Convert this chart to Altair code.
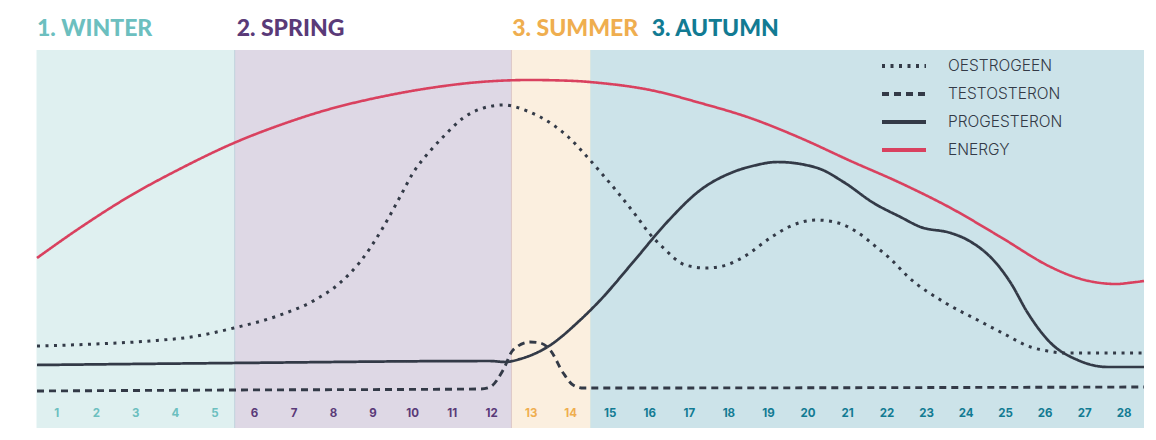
import altair as alt
import pandas as pd

# Cycle days shown along the bottom
DAYS = list(range(1, 29))

# Seasons of the cycle: band extent (in days), label anchor and colours
SEASONS = ["1. WINTER", "2. SPRING", "3. SUMMER", "3. AUTUMN"]
SEASON_START = [0.5, 5.5, 12.5, 14.5]
SEASON_END = [5.5, 12.5, 14.5, 28.5]
SEASON_LABEL_AT = [0.5, 5.55, 12.52, 16.05]
SEASON_FILL = ["#dff0f0", "#ded8e5", "#fbefdf", "#cce3e9"]
SEASON_INK = ["#6cbfbf", "#5a3a78", "#efae4f", "#127b93"]
SEASON_EDGE = ["#dff0f0", "#bfd3dc", "#dcc7c6", "#d9e6e2"]

# Hormone and energy levels through the cycle (day, level)
energy_day = [0.5, 1.58, 2.85, 4.11, 5.48, 6.65, 7.91, 9.18, 10.44, 11.71, 12.97,
              14.11, 14.75, 16.01, 17.28, 18.54, 19.81, 21.08, 22.34, 23.61, 24.87,
              26.14, 26.6, 27.0, 27.4, 27.8, 28.2, 28.5]
energy_level = [170, 200, 232, 259, 285, 303, 319, 331, 340, 346, 348,
                347, 345, 338, 325, 310, 290, 267, 245, 220, 191,
                161, 153, 148, 145, 144, 145.5, 147]

oestrogen_day = [0.5, 1.99, 3.35, 4.39, 5.48, 6.65, 7.53, 8.16, 8.67, 9.23, 9.68,
                 10.01, 10.44, 10.77, 11.28, 11.71, 12.3, 12.90, 13.56, 13.94,
                 14.44, 14.75, 15.20, 15.66, 15.96, 16.32, 16.90, 17.43, 17.94, 18.37,
                 19.08, 19.51, 20.2, 20.77, 21.20, 21.76, 22.09, 22.54, 23.48,
                 24.29, 24.92, 25.63, 26.06, 26.52, 27.23, 27.96, 28.5]
oestrogen_level = [82, 84, 87, 91, 100, 113, 128, 145, 166, 199, 231,
                   255, 277, 291, 310, 319, 323, 317, 303, 291,
                   270, 256, 235, 212, 196, 181, 163, 160, 163, 171,
                   191, 201, 208, 205, 197, 180, 169, 151, 125,
                   108, 95, 81, 77, 75, 75, 75, 75]

testosterone_day = [0.5, 5.48, 11.71, 11.96, 12.29, 12.54, 12.97, 13.23, 13.48,
                    13.81, 14.06, 14.32, 28.5]
testosterone_level = [37, 38, 39, 41, 58, 78, 86, 85, 78, 55, 43, 40, 41]

progesterone_day = [0.5, 5.48, 11.96, 12.34, 12.72, 13.41, 14.24, 14.75, 15.58,
                    16.44, 17.28, 18.11, 18.6, 19.23, 20.24, 20.90, 21.66, 22.34,
                    22.85, 23.61, 24.04, 24.80, 25.13, 25.56, 26.14, 26.82, 27.58, 28.5]
progesterone_level = [63, 65, 67, 66, 69, 81, 108, 128, 166,
                      206, 238, 256, 262, 266, 260, 246, 225, 211,
                      201, 195, 188, 163, 145, 115, 85, 68, 61, 61]

SERIES = ["OESTROGEEN", "TESTOSTERON", "PROGESTERON", "ENERGY"]
SERIES_COLOR = ["#333a47", "#333a47", "#333a47", "#d9415f"]
SERIES_DASH = [[3, 5.5], [7, 5], [1, 0], [1, 0]]
SERIES_WIDTH = [3, 2.6, 2.6, 3.4]

DARK = "#333a47"

# Key layout (pixels inside the plot area)
KEY_X0, KEY_X1, KEY_TEXT_X = 845, 889, 911
KEY_TOP, KEY_STEP = 16, 28

seasons = pd.DataFrame({
    "season": SEASONS,
    "start": SEASON_START,
    "end": SEASON_END,
    "label_at": SEASON_LABEL_AT,
    "fill": SEASON_FILL,
    "ink": SEASON_INK,
    "edge": SEASON_EDGE,
})

day_season = []
for d in DAYS:
    for name, s, e, ink in zip(SEASONS, SEASON_START, SEASON_END, SEASON_INK):
        if s < d < e:
            day_season.append(ink)
            break
days = pd.DataFrame({"day": DAYS, "ink": day_season})

frames = []
for name, xs, ys in [
    ("ENERGY", energy_day, energy_level),
    ("PROGESTERON", progesterone_day, progesterone_level),
    ("TESTOSTERON", testosterone_day, testosterone_level),
    ("OESTROGEEN", oestrogen_day, oestrogen_level),
]:
    frames.append(pd.DataFrame({"series": name, "day": xs, "level": ys,
                                "order": range(len(xs))}))
curves = pd.concat(frames, ignore_index=True)

key = pd.DataFrame({
    "series": SERIES,
    "ky": [KEY_TOP + KEY_STEP * i for i in range(len(SERIES))],
})

x_scale = alt.Scale(domain=[0.5, 28.5], nice=False, zero=False)
y_scale = alt.Scale(domain=[0, 378], nice=False, zero=False)
stroke_scale = alt.Scale(domain=SERIES, range=SERIES_COLOR)
dash_scale = alt.Scale(domain=SERIES, range=SERIES_DASH)
width_scale = alt.Scale(domain=SERIES, range=SERIES_WIDTH)

bands = alt.Chart(seasons).mark_rect().encode(
    x=alt.X("start:Q", scale=x_scale, axis=None),
    x2="end:Q",
    color=alt.Color("fill:N", scale=None),
)

edges = alt.Chart(seasons).mark_rule(strokeWidth=1).encode(
    x=alt.X("start:Q", scale=x_scale, axis=None),
    color=alt.Color("edge:N", scale=None),
)

lines = alt.Chart(curves).mark_line(interpolate="monotone").encode(
    x=alt.X("day:Q", scale=x_scale, axis=None),
    y=alt.Y("level:Q", scale=y_scale, axis=None),
    detail="series:N",
    order="order:Q",
    stroke=alt.Stroke("series:N", scale=stroke_scale, legend=None),
    strokeDash=alt.StrokeDash("series:N", scale=dash_scale, legend=None),
    strokeWidth=alt.StrokeWidth("series:N", scale=width_scale, legend=None),
)

key_symbols = alt.Chart(key).mark_rule(strokeWidth=4).encode(
    x=alt.value(KEY_X0),
    x2=alt.value(KEY_X1),
    y=alt.Y("ky:Q", scale=None, axis=None),
    stroke=alt.Stroke("series:N", scale=stroke_scale, legend=None),
    strokeDash=alt.StrokeDash("series:N", scale=dash_scale, legend=None),
)

key_labels = alt.Chart(key).mark_text(
    font="Inter", fontSize=15.5, fontWeight=300, color=DARK,
    align="left", baseline="middle",
).encode(
    x=alt.value(KEY_TEXT_X),
    y=alt.Y("ky:Q", scale=None, axis=None),
    text="series:N",
)

day_labels = alt.Chart(days).mark_text(
    font="Inter", fontSize=11.5, fontWeight="bold", baseline="middle", align="center"
).encode(
    x=alt.X("day:Q", scale=x_scale, axis=None),
    y=alt.value(364),
    text="day:Q",
    color=alt.Color("ink:N", scale=None),
)

titles = alt.Chart(seasons).mark_text(
    font="Lato", fontSize=23, fontWeight=900, baseline="middle", align="left"
).encode(
    x=alt.X("label_at:Q", scale=x_scale, axis=None),
    y=alt.value(-21),
    text="season:N",
    color=alt.Color("ink:N", scale=None),
)

chart = alt.layer(
    bands, edges, lines, key_symbols, key_labels, day_labels, titles
).resolve_scale(
    color="independent", y="independent"
).properties(
    width=1107,
    height=378,
    padding={"left": 37, "top": 50, "right": 12, "bottom": 12},
    autosize=alt.AutoSizeParams(type="none"),
    background="white",
).configure_view(stroke=None)

chart.save("out.html", embed_options={"renderer": "svg", "actions": False})
